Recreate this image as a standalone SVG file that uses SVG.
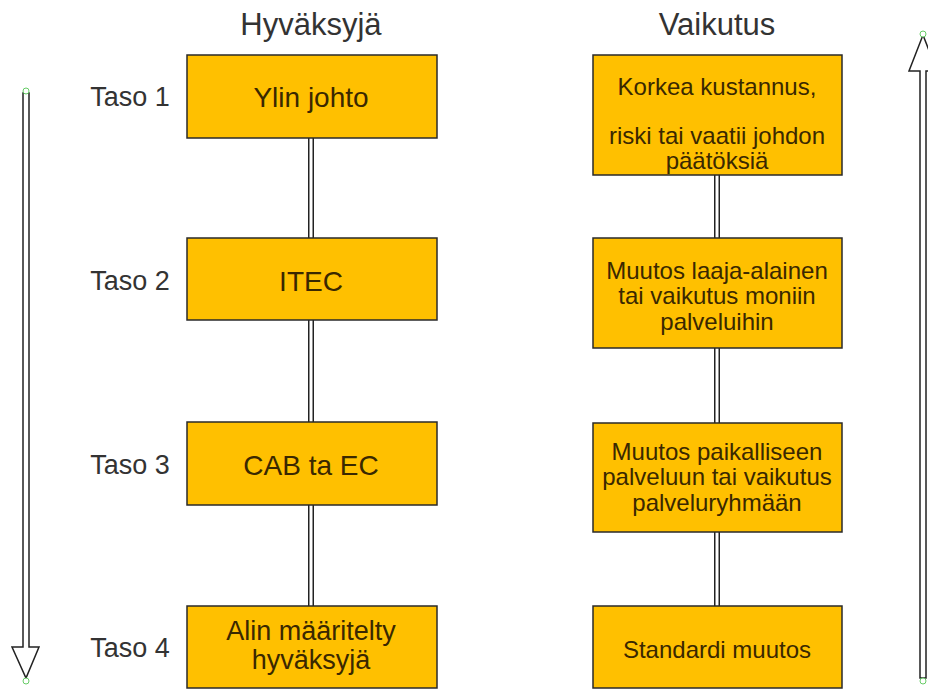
<svg xmlns="http://www.w3.org/2000/svg" width="928" height="690" viewBox="0 0 928 690">
<style>
text{font-family:"Liberation Sans",Arial,sans-serif;text-anchor:middle}
.title{font-size:31px;fill:#333}
.lvl{font-size:27px;fill:#333}
.box{fill:#FFC000;stroke:#2a2a2a;stroke-width:1.5}
.bt{font-size:28px;fill:#3a2800}
.bt2{font-size:27px;fill:#3a2800}
.rt{font-size:24px;fill:#3a2800}
.dlo{stroke:#222;stroke-width:6;fill:none}
.dli{stroke:#fff;stroke-width:3;fill:none}
.arr{fill:#fff;stroke:#222;stroke-width:1.5;stroke-linejoin:miter}
.hdl{fill:#fff;stroke:#6c6;stroke-width:1}
</style>
<rect width="928" height="690" fill="#fff"/>
<text class="title" x="311" y="35">Hyväksyjä</text>
<text class="title" x="717" y="35">Vaikutus</text>
<g id="labels">
<text class="lvl" x="130" y="106">Taso 1</text>
<text class="lvl" x="130" y="290">Taso 2</text>
<text class="lvl" x="130" y="474">Taso 3</text>
<text class="lvl" x="130" y="657">Taso 4</text>
</g>
<g id="connectors">
<path class="dlo" d="M311 138V238M311 320V422M311 505V606M717 175V238M717 348V423M717 532V606"/>
<path class="dli" d="M311 138V238M311 320V422M311 505V606M717 175V238M717 348V423M717 532V606"/>
<polygon class="arr" points="23,93 29,93 29,647 39,647 26,678 12,647 23,647"/>
<polygon class="arr" points="920,678 926,678 926,71 937,71 923,35 909,71 920,71"/>
<circle class="hdl" cx="26" cy="91" r="3"/>
<circle class="hdl" cx="26" cy="681" r="3"/>
<circle class="hdl" cx="923" cy="34" r="3"/>
<circle class="hdl" cx="923" cy="681" r="3"/>
</g>
<g id="n1"><rect class="box" x="187" y="55" width="250" height="83"/><text class="bt" x="311" y="107">Ylin johto</text></g>
<g id="n2"><rect class="box" x="187" y="238" width="250" height="82"/><text class="bt" x="311" y="291">ITEC</text></g>
<g id="n3"><rect class="box" x="187" y="422" width="250" height="83"/><text class="bt" x="311" y="475">CAB ta EC</text></g>
<g id="n4"><rect class="box" x="187" y="606" width="250" height="82"/><text class="bt2" x="311" y="640">Alin määritelty</text><text class="bt2" x="311" y="669">hyväksyjä</text></g>
<g id="r1"><rect class="box" x="593" y="55" width="249" height="120"/><text class="rt" x="717" y="95">Korkea kustannus,</text><text class="rt" x="717" y="144">riski tai vaatii johdon</text><text class="rt" x="717" y="169">päätöksiä</text></g>
<g id="r2"><rect class="box" x="593" y="238" width="249" height="110"/><text class="rt" x="717" y="279">Muutos laaja-alainen</text><text class="rt" x="717" y="304">tai vaikutus moniin</text><text class="rt" x="717" y="330">palveluihin</text></g>
<g id="r3"><rect class="box" x="593" y="423" width="249" height="109"/><text class="rt" x="717" y="460">Muutos paikalliseen</text><text class="rt" x="717" y="485">palveluun tai vaikutus</text><text class="rt" x="717" y="511">palveluryhmään</text></g>
<g id="r4"><rect class="box" x="593" y="606" width="249" height="82"/><text class="rt" x="717" y="658">Standardi muutos</text></g>
</svg>
